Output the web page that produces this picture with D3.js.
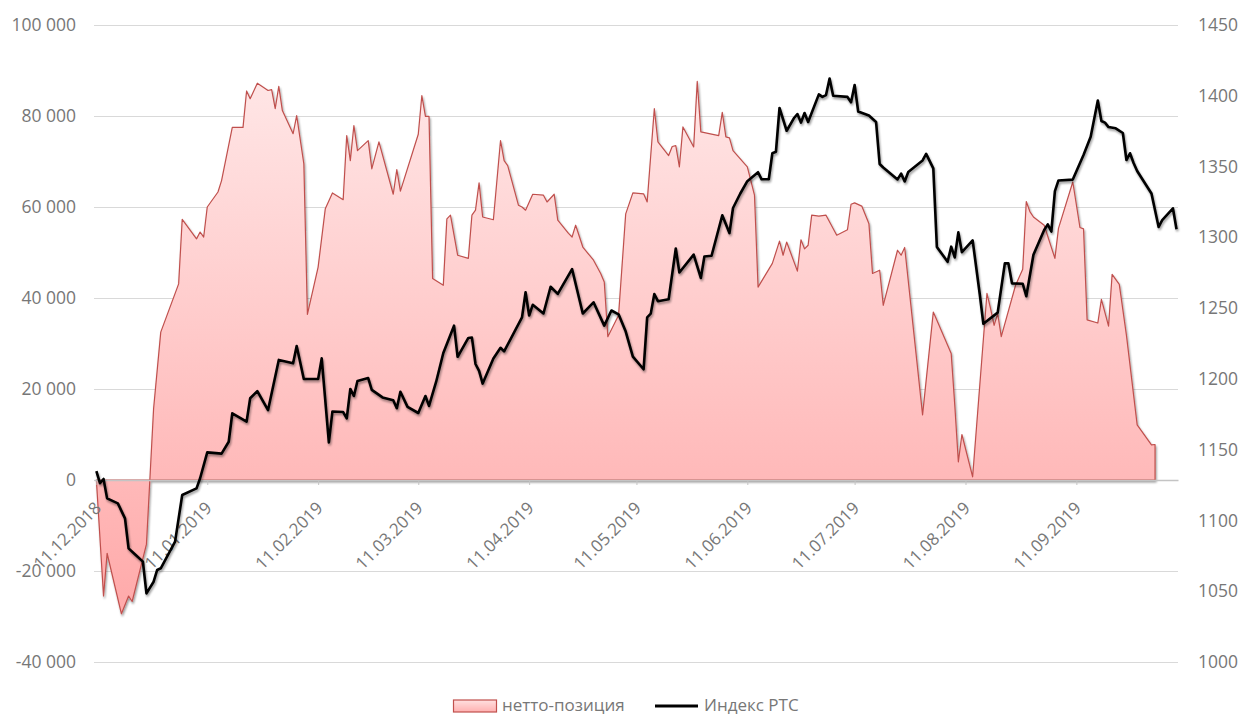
<!DOCTYPE html>
<html>
<head>
<meta charset="utf-8">
<script src="https://cdn.jsdelivr.net/npm/d3@7"></script>
<style>
  body { margin: 0; background: #fff; }
  svg text { font-family: "Open Sans", "Noto Sans", sans-serif; fill: #777; }
</style>
</head>
<body>
<svg id="chart" width="1242" height="715"></svg>
<script>
// нетто-позиция (left axis)
const netDates = [
  "2018-12-11","2018-12-13","2018-12-14","2018-12-18","2018-12-20","2018-12-21","2018-12-25","2018-12-27","2018-12-29",
  "2019-01-03","2019-01-04","2019-01-08","2019-01-09","2019-01-10","2019-01-11","2019-01-14","2019-01-15","2019-01-18",
  "2019-01-21","2019-01-22","2019-01-23","2019-01-25","2019-01-28","2019-01-29","2019-01-30","2019-01-31",
  "2019-02-01","2019-02-04","2019-02-05","2019-02-07","2019-02-08","2019-02-11","2019-02-13","2019-02-15","2019-02-18",
  "2019-02-19","2019-02-20","2019-02-21","2019-02-22","2019-02-25","2019-02-26","2019-02-28",
  "2019-03-04","2019-03-05","2019-03-06","2019-03-11","2019-03-12","2019-03-13","2019-03-14","2019-03-15","2019-03-18",
  "2019-03-19","2019-03-20","2019-03-22","2019-03-25","2019-03-26","2019-03-27","2019-03-28","2019-03-29",
  "2019-04-01","2019-04-03","2019-04-04","2019-04-05","2019-04-08","2019-04-09","2019-04-10","2019-04-12","2019-04-15",
  "2019-04-16","2019-04-18","2019-04-19","2019-04-22","2019-04-23","2019-04-24","2019-04-26","2019-04-29",
  "2019-05-01","2019-05-02","2019-05-03","2019-05-06","2019-05-08","2019-05-10","2019-05-13","2019-05-14","2019-05-16",
  "2019-05-17","2019-05-20","2019-05-21","2019-05-22","2019-05-23","2019-05-24","2019-05-27","2019-05-28","2019-05-29",
  "2019-06-03","2019-06-04","2019-06-05","2019-06-06","2019-06-07","2019-06-11","2019-06-13","2019-06-14","2019-06-18",
  "2019-06-20","2019-06-21","2019-06-22","2019-06-25","2019-06-26","2019-06-27","2019-06-28","2019-06-29",
  "2019-07-01","2019-07-03","2019-07-06","2019-07-09","2019-07-10","2019-07-11","2019-07-13","2019-07-15","2019-07-16",
  "2019-07-18","2019-07-19","2019-07-23","2019-07-24","2019-07-25","2019-07-30",
  "2019-08-02","2019-08-03","2019-08-07","2019-08-08","2019-08-09","2019-08-10","2019-08-13","2019-08-17","2019-08-18",
  "2019-08-19","2019-08-20","2019-08-21","2019-08-25","2019-08-27","2019-08-28","2019-08-29","2019-08-30",
  "2019-09-02","2019-09-05","2019-09-06","2019-09-10","2019-09-12","2019-09-13","2019-09-14","2019-09-17","2019-09-18",
  "2019-09-20","2019-09-21","2019-09-23","2019-09-25","2019-09-28","2019-10-02","2019-10-03"
];
const netValues = [
  0,-25500,-16100,-29400,-25500,-26700,-14100,15700,32500,
  43100,57300,53000,54500,53400,60000,63300,65800,77500,
  77500,85500,83800,87200,85600,85800,81600,86500,
  81200,76100,80100,69500,36400,46800,59600,63100,61600,
  75700,70200,77900,72400,74600,68400,74300,
  62800,68200,63500,76000,84500,79900,79900,44300,42800,
  57400,58200,49400,48700,58200,59300,65300,57800,
  57200,74600,70200,69100,60400,60000,59300,62800,62600,
  61100,62800,57100,54200,53400,56000,51200,48300,
  45400,43500,31500,36200,58500,63100,62900,61100,81600,
  74300,71300,73300,73500,68800,77600,73200,87600,76500,
  75700,80800,75400,75200,72400,68800,62600,42400,47600,
  52500,49400,52300,45900,52800,50800,51600,58200,
  58000,58200,53800,55000,60600,60900,60200,56300,45400,
  46100,38400,50500,49400,51100,14300,
  36900,35100,27800,16500,4000,10000,700,41000,37700,
  34000,36600,31500,42800,46300,61200,59000,57800,
  56000,48700,55300,65500,55500,55200,35200,34500,39700,
  33800,45200,43000,31800,12100,7700,7800
];

// Индекс РТС (right axis)
const rtsDates = [
  "2018-12-11","2018-12-12","2018-12-13","2018-12-14","2018-12-17","2018-12-19","2018-12-20","2018-12-22","2018-12-24",
  "2018-12-25","2018-12-27","2018-12-28","2018-12-29",
  "2019-01-02","2019-01-04","2019-01-08","2019-01-09","2019-01-11","2019-01-15","2019-01-17","2019-01-18","2019-01-22",
  "2019-01-23","2019-01-25","2019-01-28","2019-01-31",
  "2019-02-04","2019-02-05","2019-02-07","2019-02-11","2019-02-12","2019-02-14","2019-02-15","2019-02-18","2019-02-19",
  "2019-02-20","2019-02-21","2019-02-22","2019-02-25","2019-02-26",
  "2019-03-01","2019-03-04","2019-03-05","2019-03-06","2019-03-08","2019-03-11","2019-03-13","2019-03-14","2019-03-16",
  "2019-03-18","2019-03-21","2019-03-22","2019-03-25","2019-03-26","2019-03-27","2019-03-28","2019-03-29",
  "2019-04-01","2019-04-03","2019-04-04","2019-04-09","2019-04-10","2019-04-11","2019-04-12","2019-04-15","2019-04-17",
  "2019-04-19","2019-04-23","2019-04-26","2019-04-29",
  "2019-05-02","2019-05-04","2019-05-06","2019-05-08","2019-05-10","2019-05-13","2019-05-14","2019-05-15","2019-05-16",
  "2019-05-17","2019-05-20","2019-05-22","2019-05-23","2019-05-27","2019-05-29","2019-05-30",
  "2019-06-01","2019-06-04","2019-06-06","2019-06-07","2019-06-09","2019-06-11","2019-06-14","2019-06-15","2019-06-17",
  "2019-06-18","2019-06-19","2019-06-20","2019-06-22","2019-06-24","2019-06-25","2019-06-26","2019-06-27","2019-06-28",
  "2019-07-01","2019-07-02","2019-07-03","2019-07-04","2019-07-05","2019-07-09","2019-07-10","2019-07-11","2019-07-12",
  "2019-07-15","2019-07-17","2019-07-18","2019-07-19","2019-07-23","2019-07-24","2019-07-25","2019-07-26","2019-07-30",
  "2019-07-31",
  "2019-08-02","2019-08-03","2019-08-06","2019-08-07","2019-08-08","2019-08-09","2019-08-10","2019-08-13","2019-08-15",
  "2019-08-16","2019-08-20","2019-08-22","2019-08-23","2019-08-24","2019-08-27","2019-08-28","2019-08-30",
  "2019-09-02","2019-09-03","2019-09-04","2019-09-05","2019-09-06","2019-09-10","2019-09-13","2019-09-15","2019-09-17",
  "2019-09-18","2019-09-19","2019-09-20","2019-09-22","2019-09-24","2019-09-25","2019-09-26","2019-09-27","2019-09-28",
  "2019-10-02","2019-10-04","2019-10-05","2019-10-08","2019-10-09"
];
const rtsValues = [
  1134.9,1126.3,1129.3,1115.6,1112.1,1101.5,1080.3,1075.6,1070.9,
  1048.5,1056.7,1065.0,1066.2,
  1085.0,1118.0,1122.7,1129.8,1148.1,1147.2,1155.6,1175.7,1169.8,
  1186.3,1191.4,1178.0,1213.4,
  1211.0,1223.2,1199.9,1199.9,1214.5,1155.1,1177.0,1176.6,1172.1,
  1192.9,1187.9,1198.5,1200.6,1192.2,
  1186.9,1184.9,1179.3,1190.9,1180.2,1175.9,1187.9,1180.9,1198.0,
  1218.3,1237.6,1215.6,1228.9,1229.2,1210.5,1205.6,1196.7,
  1214.4,1222.0,1219.4,1243.5,1261.2,1244.8,1252.3,1246.2,1265.1,
  1260.0,1277.6,1246.2,1254.1,
  1237.6,1248.3,1245.6,1233.4,1215.7,1206.8,1243.5,1246.1,1260.0,
  1254.9,1256.2,1292.1,1275.2,1287.8,1271.3,1286.5,
  1287.0,1315.6,1303.0,1320.7,1330.8,1339.7,1346.0,1341.0,1341.0,
  1359.4,1360.5,1391.4,1375.3,1384.1,1387.1,1381.1,1387.8,1381.5,
  1401.0,1399.2,1400.5,1412.2,1400.0,1399.2,1395.4,1407.6,1388.9,
  1386.1,1381.5,1351.8,1349.3,1340.9,1345.0,1339.5,1346.2,1354.3,
  1359.0,
  1348.7,1293.2,1282.7,1293.4,1285.8,1303.5,1289.5,1297.8,1259.6,
  1238.9,1246.8,1281.6,1281.6,1267.5,1267.2,1258.4,1287.7,
  1305.2,1309.1,1304.1,1332.7,1340.2,1340.8,1358.2,1371.1,1396.6,
  1382.2,1381.0,1377.9,1377.0,1373.7,1354.6,1359.4,1352.5,1346.9,
  1331.0,1307.3,1312.2,1320.5,1305.7
];

const leftTicks = [-40000, -20000, 0, 20000, 40000, 60000, 80000, 100000];
const rightTicks = [1000, 1050, 1100, 1150, 1200, 1250, 1300, 1350, 1400, 1450];
const monthTicks = ["2018-12-11","2019-01-11","2019-02-11","2019-03-11","2019-04-11",
                    "2019-05-11","2019-06-11","2019-07-11","2019-08-11","2019-09-11"];
const seriesNames = ["нетто-позиция", "Индекс РТС"];

const parse = d3.timeParse("%Y-%m-%d");
const net = netDates.map((d, i) => ({ date: parse(d), v: netValues[i] }));
const rts = rtsDates.map((d, i) => ({ date: parse(d), v: rtsValues[i] }));

const plotLeft = 94, plotRight = 1178, plotTop = 25, plotBottom = 662;

const x = d3.scaleTime()
  .domain([new Date(2018, 11, 10, 8), new Date(2019, 9, 9, 10)])
  .range([plotLeft, plotRight]);
const yL = d3.scaleLinear().domain([-40000, 100000]).range([plotBottom, plotTop]);
const yR = d3.scaleLinear().domain([1000, 1450]).range([plotBottom, plotTop]);

const ruLocale = d3.formatLocale({ decimal: ",", thousands: " ", grouping: [3], currency: ["", ""], minus: "-" });
const fmtL = ruLocale.format(",d");

const svg = d3.select("#chart");
const defs = svg.append("defs");

const grad = defs.append("linearGradient")
  .attr("id", "netFill")
  .attr("gradientUnits", "userSpaceOnUse")
  .attr("x1", 0).attr("y1", 80).attr("x2", 0).attr("y2", 620);
grad.append("stop").attr("offset", "0%").attr("stop-color", "#ffe6e6");
grad.append("stop").attr("offset", "100%").attr("stop-color", "#ffa9a9");

const legGrad = defs.append("linearGradient")
  .attr("id", "legFill").attr("x1", 0).attr("y1", 0).attr("x2", 0).attr("y2", 1);
legGrad.append("stop").attr("offset", "0%").attr("stop-color", "#ffe0e0");
legGrad.append("stop").attr("offset", "100%").attr("stop-color", "#ffb0b0");

const shadow = defs.append("filter").attr("id", "shadow")
  .attr("x", "-5%").attr("y", "-5%").attr("width", "110%").attr("height", "110%");
shadow.append("feGaussianBlur").attr("in", "SourceAlpha").attr("stdDeviation", 1.3).attr("result", "blur");
shadow.append("feOffset").attr("in", "blur").attr("dx", 1).attr("dy", 1.5).attr("result", "off");
shadow.append("feComponentTransfer").attr("in", "off").attr("result", "soft")
  .append("feFuncA").attr("type", "linear").attr("slope", 0.4);
const merge = shadow.append("feMerge");
merge.append("feMergeNode").attr("in", "soft");
merge.append("feMergeNode").attr("in", "SourceGraphic");

// gridlines + left labels
const gL = svg.append("g")
  .attr("transform", `translate(${plotLeft},0)`)
  .call(d3.axisLeft(yL).tickValues(leftTicks).tickFormat(fmtL)
    .tickSize(-(plotRight - plotLeft)).tickPadding(18));
gL.select(".domain").remove();
gL.selectAll(".tick line").attr("stroke", "#d9d9d9").attr("stroke-width", 1);
gL.selectAll(".tick text").style("font-size", "17.5px").attr("fill", "#777");

// right labels
const gR = svg.append("g")
  .attr("transform", `translate(${plotRight},0)`)
  .call(d3.axisRight(yR).tickValues(rightTicks).tickFormat(d3.format("d"))
    .tickSize(0).tickPadding(20));
gR.select(".domain").remove();
gR.selectAll(".tick text").style("font-size", "17.5px").attr("fill", "#777");

// net position area
const area = d3.area()
  .x(d => x(d.date))
  .y0(yL(0))
  .y1(d => yL(d.v));
svg.append("path")
  .datum(net)
  .attr("d", area)
  .attr("fill", "url(#netFill)")
  .attr("stroke", "#c0504d")
  .attr("stroke-width", 1.2)
  .attr("stroke-linejoin", "round")
  .attr("filter", "url(#shadow)");

// x axis along zero
const fmtX = d3.timeFormat("%d.%m.%Y");
const gX = svg.append("g")
  .attr("transform", `translate(0,${yL(0)})`)
  .call(d3.axisBottom(x).tickValues(monthTicks.map(parse)).tickFormat(fmtX)
    .tickSize(5).tickSizeOuter(0).tickPadding(0));
gX.select(".domain").attr("stroke", "#c4c4c4").attr("stroke-width", 1.3);
gX.selectAll(".tick line").attr("stroke", "#c4c4c4");
gX.selectAll(".tick text")
  .style("font-size", "17px")
  .attr("fill", "#777")
  .attr("text-anchor", "end")
  .attr("y", 0).attr("dy", "0.35em")
  .attr("transform", "translate(1,25) rotate(-45)");

// RTS line
const line = d3.line()
  .x(d => x(d.date))
  .y(d => yR(d.v));
svg.append("path")
  .datum(rts)
  .attr("d", line)
  .attr("fill", "none")
  .attr("stroke", "#000")
  .attr("stroke-width", 2.6)
  .attr("stroke-linejoin", "round")
  .attr("filter", "url(#shadow)");

// legend
const leg = svg.append("g");
leg.append("rect")
  .attr("x", 453.5).attr("y", 700).attr("width", 43).attr("height", 12)
  .attr("fill", "url(#legFill)").attr("stroke", "#c0504d").attr("stroke-width", 1.2);
leg.append("text").attr("x", 502).attr("y", 711).style("font-size", "17px").text(seriesNames[0]);
leg.append("line")
  .attr("x1", 655).attr("x2", 698).attr("y1", 706).attr("y2", 706)
  .attr("stroke", "#000").attr("stroke-width", 3);
leg.append("text").attr("x", 704).attr("y", 711).style("font-size", "17px").text(seriesNames[1]);
</script>
</body>
</html>
